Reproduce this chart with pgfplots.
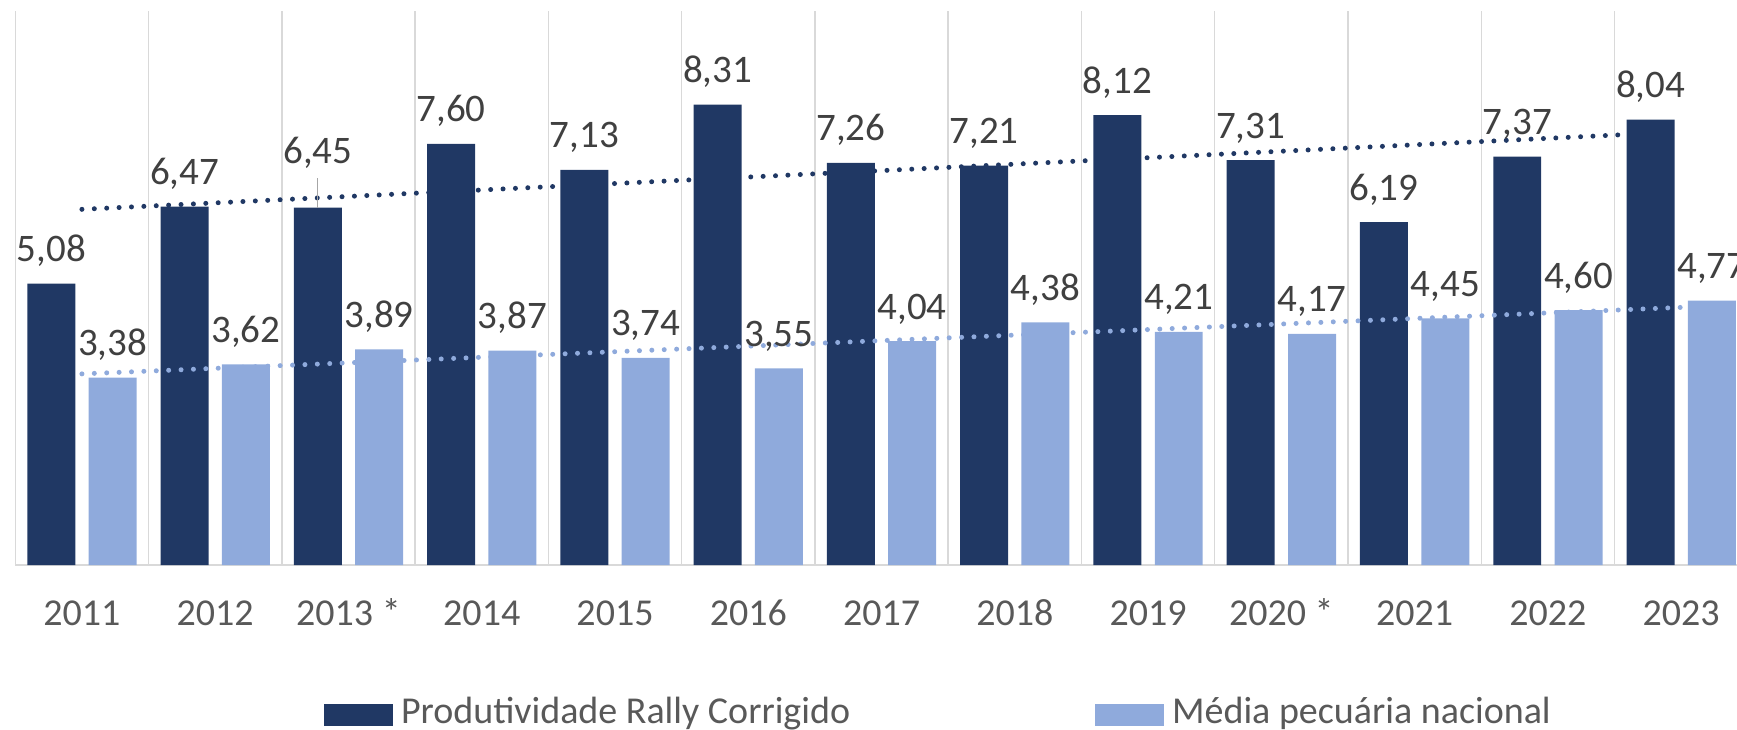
\documentclass[border=0pt]{standalone}
\usepackage{pgfplots}
\pgfplotsset{compat=1.18}
\usepackage{pgfplotstable}
\usepackage{fontspec}
\setmainfont{Carlito}
\definecolor{darkbar}{HTML}{203864}
\definecolor{lightbar}{HTML}{8FAADC}
\definecolor{lbl}{HTML}{404040}
\definecolor{tck}{HTML}{595959}
\definecolor{grd}{HTML}{D9D9D9}
\definecolor{leader}{HTML}{A6A6A6}

\pgfplotstableread{
x dark dlab ddy light llab
0  5.08 5,08 0  3.38 3,38
1  6.47 6,47 0  3.62 3,62
2  6.45 6,45 22 3.89 3,89
3  7.60 7,60 0  3.87 3,87
4  7.13 7,13 0  3.74 3,74
5  8.31 8,31 0  3.55 3,55
6  7.26 7,26 0  4.04 4,04
7  7.21 7,21 0  4.38 4,38
8  8.12 8,12 0  4.21 4,21
9  7.31 7,31 0  4.17 4,17
10 6.19 6,19 0  4.45 4,45
11 7.37 7,37 0  4.60 4,60
12 8.04 8,04 0  4.77 4,77
}\datatable

\begin{document}
\begin{tikzpicture}[font=\fontsize{38}{45}\selectfont]
\begin{axis}[
  at={(15.3pt,164pt)}, anchor=south west,
  scale only axis, width=1732.5pt, height=554pt,
  xmin=-0.5, xmax=12.5, ymin=0, ymax=10,
  axis x line=bottom, axis y line=none,
  axis line style={-, draw=grd, line width=1.5pt},
  xtick={0,...,12},
  xticklabels={2011,2012,2013 *,2014,2015,2016,2017,2018,2019,2020 *,2021,2022,2023},
  minor xtick={-0.5,0.5,...,12.5},
  xminorgrids, xmajorgrids=false,
  minor x grid style={draw=grd, line width=1.5pt},
  major tick length=0pt, minor tick length=0pt,
  xticklabel style={font=\fontsize{38}{45}\selectfont, text=tck, anchor=base, yshift=-60pt, inner sep=0pt},
  legend style={draw=none, fill=none, inner sep=0pt, outer sep=0pt,
    at={(axis description cs:0.1782,-0.2906)}, anchor=south west,
    font=\fontsize{38}{45}\selectfont, text=tck,
    nodes={inner sep=0pt},
    /tikz/every odd column/.append style={column sep=8pt},
    /tikz/every even column/.append style={column sep=245pt}},
  legend columns=2, legend cell align=left,
]
\addplot[ybar, bar width=0.36, bar shift=-0.23, fill=darkbar, draw=none,
  point meta=explicit symbolic,
  visualization depends on={\thisrow{ddy} \as \ddy},
  nodes near coords={\pgfplotspointmeta},
  every node near coord/.append style={anchor=base, xshift=-30.65pt, yshift={(22+\ddy)*1pt}, inner sep=0pt, text=lbl, font=\fontsize{39}{46}\selectfont},
  legend image code/.code={\fill[darkbar] (0pt,-15pt) rectangle (69pt,7pt);}]
  table[x=x, y=dark, meta=dlab] {\datatable};
\addlegendentry{Produtividade Rally Corrigido}
\addplot[ybar, bar width=0.36, bar shift=0.23, fill=lightbar, draw=none,
  point meta=explicit symbolic,
  nodes near coords={\pgfplotspointmeta},
  every node near coord/.append style={anchor=base, xshift=30.65pt, yshift=22pt, inner sep=0pt, text=lbl, font=\fontsize{39}{46}\selectfont},
  legend image code/.code={\fill[lightbar] (0pt,-15pt) rectangle (69pt,7pt);}]
  table[x=x, y=light, meta=llab] {\datatable};
\addlegendentry{Média pecuária nacional}
\addplot[forget plot, darkbar, line width=5pt, line cap=round, dash pattern=on 0pt off 12.4pt]
  coordinates {(0,6.42) (11.93,7.81)};
\addplot[forget plot, lightbar, line width=5pt, line cap=round, dash pattern=on 0pt off 12.4pt]
  coordinates {(0,3.45) (12,4.65)};
\draw[leader, line width=1pt] (axis cs:1.77,6.45) -- (axis cs:1.77,6.99);
\end{axis}
\pgfresetboundingbox
\useasboundingbox (0pt,0pt) rectangle (1737pt,729pt);
\end{tikzpicture}
\end{document}
